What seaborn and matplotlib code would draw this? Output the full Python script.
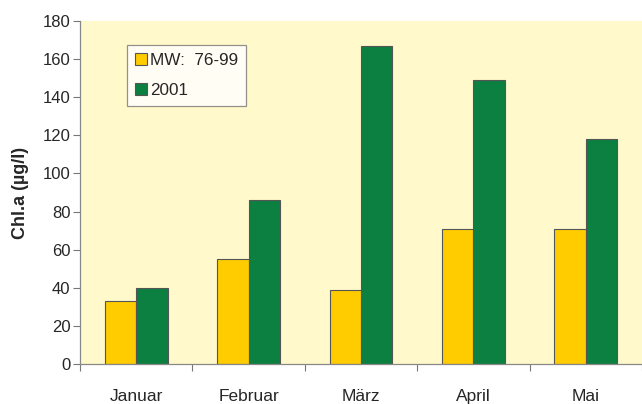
import matplotlib
matplotlib.use("Agg")
import matplotlib.pyplot as plt
import seaborn as sns
import pandas as pd
import numpy as np

# Monthly Chl.a values
months = ['Januar', 'Februar', 'März', 'April', 'Mai']
mw_76_99 = [33, 55, 39, 71, 71]
y2001 = [40, 86, 167, 149, 118]
series_names = ['MW:  76-99', '2001']

df = pd.DataFrame({
    'Monat': months * 2,
    'Wert': mw_76_99 + y2001,
    'Reihe': [series_names[0]] * len(months) + [series_names[1]] * len(months),
})

sns.set_style('white')
plt.rcParams['font.family'] = ['Liberation Sans', 'DejaVu Sans']

fig = plt.figure(figsize=(6.42, 4.04), dpi=100)
ax = fig.add_axes([0.1246, 0.099, 0.8754, 0.849])
ax.set_facecolor('#FFF9CC')

palette = {series_names[0]: '#FFCC00', series_names[1]: '#0B8040'}
sns.barplot(data=df, x='Monat', y='Wert', hue='Reihe', palette=palette,
            width=0.56, gap=0, edgecolor='#555555', linewidth=0.8,
            saturation=1, ax=ax)

ax.set_ylim(0, 180)
ax.set_xlim(-0.5, 4.5)
ax.set_yticks(range(0, 181, 20))
ax.set_xlabel('')
ax.set_ylabel('Chl.a (µg/l)', fontsize=13, fontweight='bold', labelpad=10)

# ticks: y outward, x category boundaries as minor ticks
ax.tick_params(axis='y', which='major', direction='out', length=5, width=0.8,
               color='#777777', labelsize=12, pad=2, left=True)
ax.tick_params(axis='x', which='major', length=0, labelsize=12.5, pad=18)
ax.set_xticks(np.arange(-0.5, 5, 1), minor=True)
ax.tick_params(axis='x', which='minor', direction='out', length=5, width=0.8,
               color='#777777', bottom=True)

for side in ['top', 'right']:
    ax.spines[side].set_visible(False)
for side in ['left', 'bottom']:
    ax.spines[side].set_color('#888888')
    ax.spines[side].set_linewidth(0.9)

leg = ax.legend(loc='upper left', bbox_to_anchor=(0.084, 0.93), fontsize=12.3,
                frameon=True, fancybox=False, edgecolor='#777777',
                handlelength=0.7, handleheight=0.7, handletextpad=0.2,
                labelspacing=0.9, borderpad=0.45, borderaxespad=0, title=None)
leg.get_frame().set_linewidth(0.9)
leg.get_frame().set_facecolor('white')

fig.savefig('out.png', dpi=100, facecolor='white')
